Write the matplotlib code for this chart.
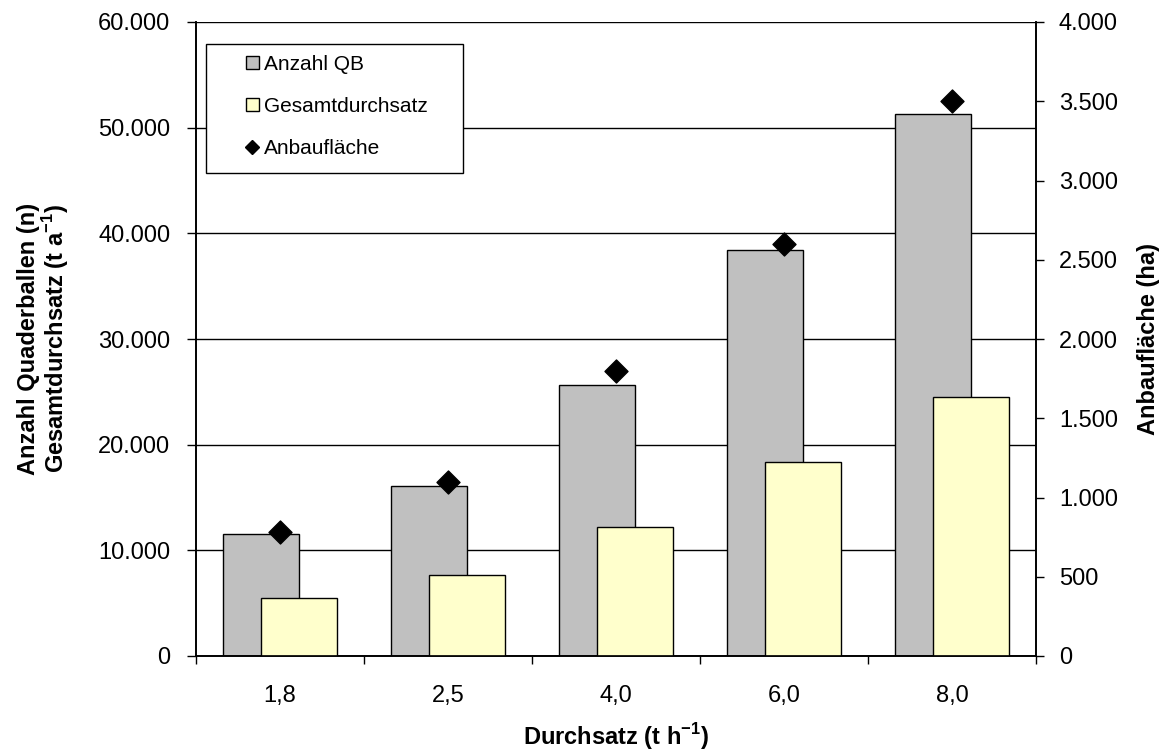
import numpy as np
import matplotlib
matplotlib.use("Agg")
import matplotlib.pyplot as plt
from matplotlib.ticker import FuncFormatter, MultipleLocator
from matplotlib.lines import Line2D
from matplotlib.patches import Patch, Rectangle

plt.rcParams['font.family'] = ['Liberation Sans', 'DejaVu Sans']
plt.rcParams['mathtext.fontset'] = 'custom'
plt.rcParams['mathtext.rm'] = 'Liberation Sans'
plt.rcParams['mathtext.bf'] = 'Liberation Sans:bold'

# data
durchsatz = ['1,8', '2,5', '4,0', '6,0', '8,0']
anzahl_qb = [11500, 16100, 25600, 38400, 51300]
gesamtdurchsatz = [5500, 7700, 12250, 18400, 24500]
anbauflaeche = [780, 1100, 1800, 2600, 3500]

W, H = 1168, 754


def de_thousands(v, pos):
    # German style thousands separator: 10.000
    return f"{int(round(v)):,}".replace(",", ".")


fig = plt.figure(figsize=(W / 100, H / 100), dpi=100)
ax = fig.add_axes([196 / W, 1 - 656 / H, 840 / W, 634 / H])
ax2 = ax.twinx()

x = np.arange(len(durchsatz))
width = 0.452
ax.bar(x - 0.113, anzahl_qb, width, color='#C0C0C0', edgecolor='black', linewidth=1.0, zorder=2)
ax.bar(x + 0.113, gesamtdurchsatz, width, color='#FFFFCC', edgecolor='black', linewidth=1.0, zorder=3)
ax2.scatter(x, anbauflaeche, marker='D', s=137, color='black', zorder=4)

ax.set_xlim(-0.5, len(durchsatz) - 0.5)
ax.set_ylim(0, 60000)
ax2.set_ylim(0, 4000)
ax.yaxis.set_major_locator(MultipleLocator(10000))
ax2.yaxis.set_major_locator(MultipleLocator(500))
ax.yaxis.set_major_formatter(FuncFormatter(de_thousands))
ax2.yaxis.set_major_formatter(FuncFormatter(de_thousands))

# category ticks sit between groups, labels centered
ax.set_xticks(np.arange(len(durchsatz) + 1) - 0.5)
ax.set_xticklabels([])
ax.set_xticks(x, minor=True)
ax.set_xticklabels(durchsatz, minor=True)
ax.tick_params(axis='x', which='minor', length=0, pad=21, labelsize=17)
ax.tick_params(axis='x', which='major', length=6, direction='out', width=1)
ax.tick_params(axis='y', length=6.5, width=1, labelsize=17, pad=12)
ax2.tick_params(axis='y', length=5.5, width=1, labelsize=17, pad=11)

ax.grid(axis='y', color='black', linewidth=1, zorder=0)
ax.set_axisbelow(True)
for a in (ax, ax2):
    a.spines['top'].set_visible(False)
    for s in ('left', 'right', 'bottom'):
        a.spines[s].set_linewidth(1.2)

ax.set_xlabel(r'Durchsatz (t h$^{\mathbf{-1}}$)', fontsize=17, fontweight='bold')
ax.xaxis.set_label_coords(0.5, -0.102)
ax.set_ylabel('Anzahl Quaderballen (n)\n' + r'Gesamtdurchsatz (t a$^{\mathbf{-1}}$)',
              fontsize=17, fontweight='bold', linespacing=1.0)
ax.yaxis.set_label_coords(-0.149, 0.5)
ax2.set_ylabel('Anbaufläche (ha)', fontsize=17, fontweight='bold')
ax2.yaxis.set_label_coords(1.1205, 0.5)

# legend box drawn by hand so the entries can sit well inside it
frame = Rectangle((206 / W, 1 - 173 / H), 257 / W, 129 / H, transform=fig.transFigure,
                  facecolor='white', edgecolor='black', linewidth=1, zorder=5, clip_on=False)
ax2.add_artist(frame)
handles = [
    Patch(facecolor='#C0C0C0', edgecolor='black'),
    Patch(facecolor='#FFFFCC', edgecolor='black'),
    Line2D([], [], marker='D', color='black', linestyle='none', markersize=7.6),
]
leg = ax2.legend(handles, ['Anzahl QB', 'Gesamtdurchsatz', 'Anbaufläche'],
                 loc='center left', bbox_to_anchor=(246 / W, 1 - 106.5 / H),
                 bbox_transform=fig.transFigure, fontsize=15, frameon=False,
                 handlelength=0.62, handleheight=0.62, handletextpad=0.25,
                 labelspacing=1.1, borderpad=0, borderaxespad=0)
leg.set_zorder(10)

fig.savefig('out.png', dpi=100)
